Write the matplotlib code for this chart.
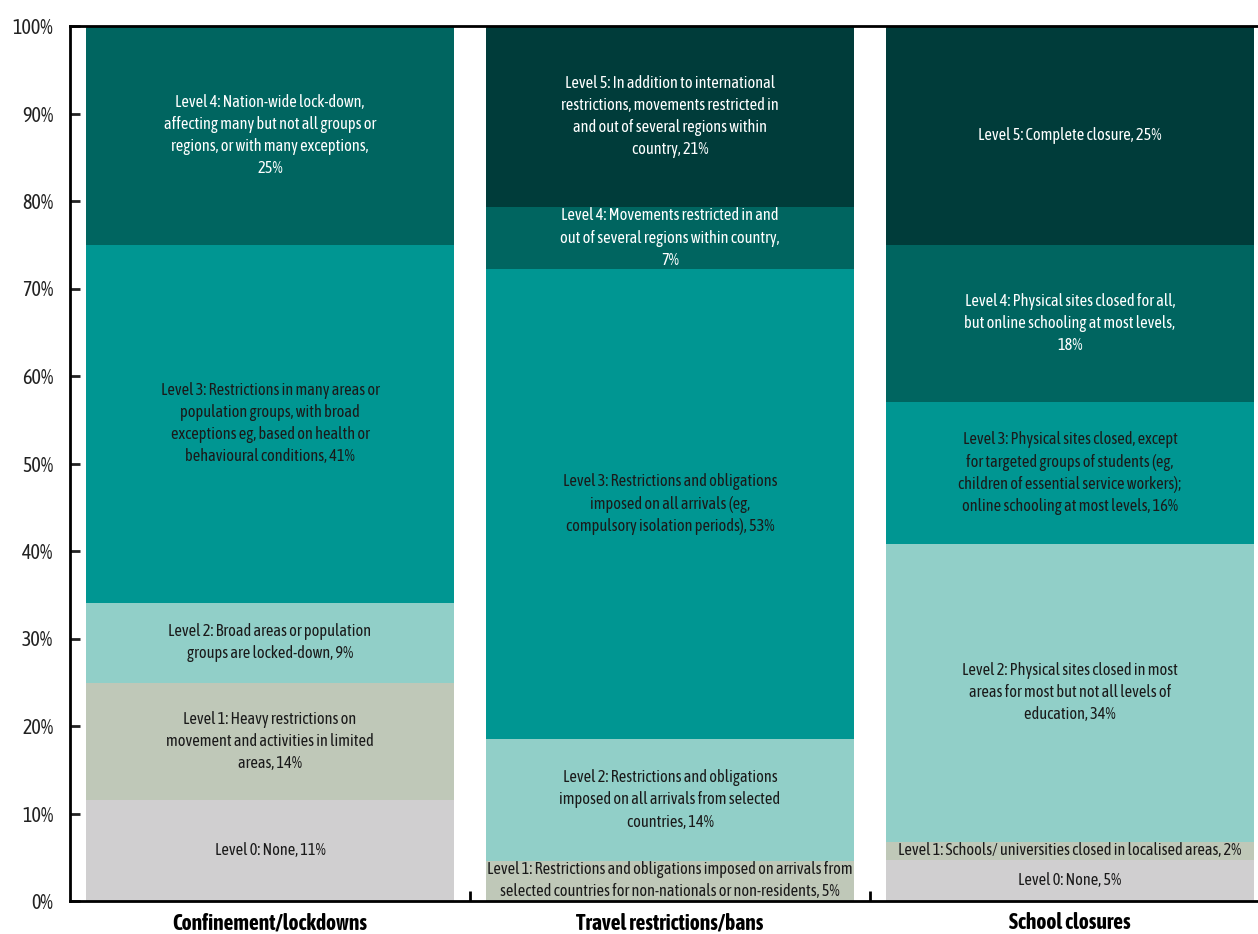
import numpy as np
import matplotlib.pyplot as plt
from matplotlib import font_manager

# the original uses Arial Narrow; take a condensed face if one is installed
fonts = font_manager.fontManager.ttflist
narrow = sorted({f.name for f in fonts if 'Narrow' in f.name or 'Condensed' in f.name})


def has_bold(name):
    for f in fonts:
        w = f.weight if isinstance(f.weight, int) else font_manager.weight_dict.get(f.weight, 400)
        if f.name == name and w >= 600:
            return True
    return False


bold_narrow = [n for n in narrow if has_bold(n)]
if narrow:
    base_font = bold_narrow[0] if bold_narrow else narrow[0]
    label_size, label_spacing, tick_size = 11.8, 1.4, 14.5
else:
    base_font = 'Liberation Sans'
    label_size, label_spacing, tick_size = 10.3, 1.5, 12
if bold_narrow:
    cat_font, cat_size = bold_narrow[0], 15.5
else:
    cat_font, cat_size = 'Liberation Sans', 12.5
plt.rcParams['font.family'] = [base_font, 'DejaVu Sans']

categories = ['Confinement/lockdowns', 'Travel restrictions/bans', 'School closures']

# share of countries at each level (%), one list per level across the 3 categories
lvl0 = [11.5, 0.0, 4.7]
lvl1 = [13.4, 4.6, 2.1]
lvl2 = [9.2, 13.9, 34.0]
lvl3 = [40.9, 53.7, 16.2]
lvl4 = [25.0, 7.1, 18.0]
lvl5 = [0.0, 20.7, 25.0]

labels0 = ['Level 0: None, 11%', '', 'Level 0: None, 5%']
labels1 = ['Level 1: Heavy restrictions on\nmovement and activities in limited\nareas, 14%',
           'Level 1: Restrictions and obligations imposed on arrivals from\nselected countries for non-nationals or non-residents, 5%',
           'Level 1: Schools/ universities closed in localised areas, 2%']
labels2 = ['Level 2: Broad areas or population\ngroups are locked-down, 9%',
           'Level 2: Restrictions and obligations\nimposed on all arrivals from selected\ncountries, 14%',
           'Level 2: Physical sites closed in most\nareas for most but not all levels of\neducation, 34%']
labels3 = ['Level 3: Restrictions in many areas or\npopulation groups, with broad\nexceptions eg, based on health or\nbehavioural conditions, 41%',
           'Level 3: Restrictions and obligations\nimposed on all arrivals (eg,\ncompulsory isolation periods), 53%',
           'Level 3: Physical sites closed, except\nfor targeted groups of students (eg,\nchildren of essential service workers);\nonline schooling at most levels, 16%']
labels4 = ['Level 4: Nation-wide lock-down,\naffecting many but not all groups or\nregions, or with many exceptions,\n25%',
           'Level 4: Movements restricted in and\nout of several regions within country,\n7%',
           'Level 4: Physical sites closed for all,\nbut online schooling at most levels,\n18%']
labels5 = ['', 'Level 5: In addition to international\nrestrictions, movements restricted in\nand out of several regions within\ncountry, 21%',
           'Level 5: Complete closure, 25%']

levels = [lvl0, lvl1, lvl2, lvl3, lvl4, lvl5]
level_labels = [labels0, labels1, labels2, labels3, labels4, labels5]
colors = ['#d0cfd0', '#bfc8b8', '#91cfc8', '#009692', '#006560', '#003c3a']
text_colors = ['#1a1a1a', '#1a1a1a', '#1a1a1a', '#1a1a1a', 'white', 'white']

fig = plt.figure(figsize=(12.58, 9.34), dpi=100)
ax = fig.add_axes([70 / 1258, 33 / 934, 1200 / 1258, 875 / 934])

x = np.arange(len(categories))
bottom = np.zeros(len(categories))
for vals, labs, col, tcol in zip(levels, level_labels, colors, text_colors):
    vals = np.array(vals)
    ax.bar(x, vals, width=0.92, bottom=bottom, color=col, edgecolor='none')
    # put the description in the middle of each segment
    for i in range(len(x)):
        if vals[i] > 0 and labs[i]:
            ax.text(x[i], bottom[i] + vals[i] / 2, labs[i], ha='center', va='center',
                    fontsize=label_size, color=tcol, linespacing=label_spacing)
    bottom += vals

ax.set_xlim(-0.5, 2.5)
ax.set_ylim(0, 100)
ax.set_yticks(np.arange(0, 101, 10))
ax.set_yticklabels([f'{v}%' for v in range(0, 101, 10)])
ax.tick_params(axis='y', direction='in', length=7, width=2, labelsize=tick_size, pad=12, colors='#222222')
ax.set_xticks(x)
ax.set_xticklabels(categories, fontweight='bold', family=[cat_font, 'DejaVu Sans'], fontsize=cat_size)
ax.tick_params(axis='x', length=0, pad=8)
ax.set_xticks([0.5, 1.5], minor=True)
ax.tick_params(axis='x', which='minor', direction='in', length=7, width=2)

for side in ['left', 'bottom', 'top', 'right']:
    ax.spines[side].set_linewidth(2)

plt.savefig('out.png', dpi=100)
